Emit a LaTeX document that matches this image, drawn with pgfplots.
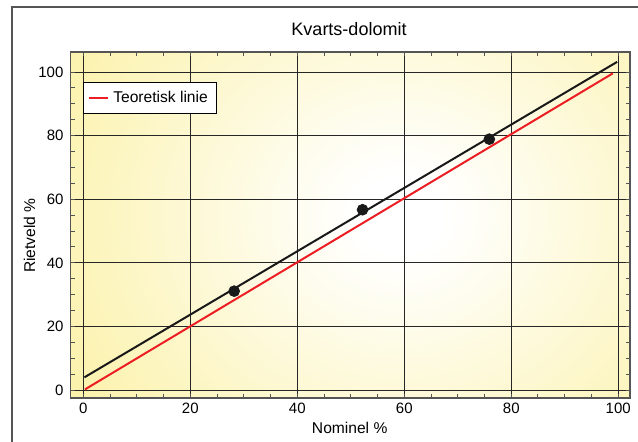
\documentclass[border=0pt]{standalone}
\usepackage{fontspec}
\setmainfont{Liberation Sans}
\usepackage{pgfplots}
\pgfplotsset{compat=1.18}
\definecolor{bgyellow}{RGB}{251,241,165}
\definecolor{bgyellowb}{RGB}{250,238,155}
\definecolor{myred}{RGB}{236,30,36}
\definecolor{frame}{RGB}{85,85,85}
\pgfdeclareradialshading{bgshade}{\pgfpoint{0bp}{0bp}}{color(0bp)=(white); color(2bp)=(white); color(19bp)=(bgyellow); color(32bp)=(bgyellowb); color(75bp)=(bgyellowb)}
\begin{document}
\begin{tikzpicture}
\useasboundingbox (0,0) rectangle (319pt,220.5pt);
\draw[frame, line width=0.75pt] (6pt,-1pt) -- (6pt,217pt) -- (320pt,217pt);
\begin{scope}
\clip (35.25pt,21.5pt) rectangle (315pt,194.5pt);
\shade[shading=bgshade] (-68pt,-127pt) rectangle (468pt,353pt);
\end{scope}
\begin{axis}[
  at={(35.25pt,21.5pt)}, anchor=south west,
  scale only axis, width=279.75pt, height=173pt,
  xmin=-2.4, xmax=102.2, ymin=-2.5, ymax=106.3,
  xtick={0,20,...,100}, ytick={0,20,...,100},
  minor x tick num=3, minor y tick num=3,
  tick align=inside, major tick length=2.2pt, minor tick length=2.2pt,
  tick style={frame, line width=0.5pt},
  grid=major, major grid style={black!85, line width=0.45pt},
  axis line style={frame, line width=0.8pt},
  /pgf/number format/assume math mode=true,
  ticklabel style={font=\fontsize{7.5}{9}\selectfont},
  xticklabel style={yshift=0.8pt},
  legend style={at={(0.022,0.913)}, anchor=north west, draw=black, line width=0.5pt,
    fill=white, font=\fontsize{7.8}{9}\selectfont, inner xsep=2.5pt, inner ysep=2.2pt},
  legend cell align=left,
  legend image code/.code={\draw[#1, line width=1pt] (0pt,0pt) -- (9.5pt,0pt);},
]
\addplot[myred, line width=1pt] coordinates {(0.3,0.2) (99,99.6)};
\addlegendentry{Teoretisk linie}
\addplot[black!90, line width=1pt, forget plot] coordinates {(0.2,4.0) (99.8,103.2)};
\addplot[only marks, mark=*, mark size=2.7pt, mark options={fill=black!90, draw=black!90}, forget plot]
  coordinates {(28.2,31.1) (52.2,56.7) (75.9,78.9)};
\end{axis}
\node[anchor=base, font=\fontsize{9}{11}\selectfont] at (174.5pt,203pt) {Kvarts-dolomit};
\node[anchor=base, font=\fontsize{7.8}{9}\selectfont] at (174.85pt,3.75pt) {Nominel \%};
\node[anchor=base, rotate=90, font=\fontsize{7.8}{9}\selectfont] at (17.5pt,102.75pt) {Rietveld \%};
\end{tikzpicture}
\end{document}
